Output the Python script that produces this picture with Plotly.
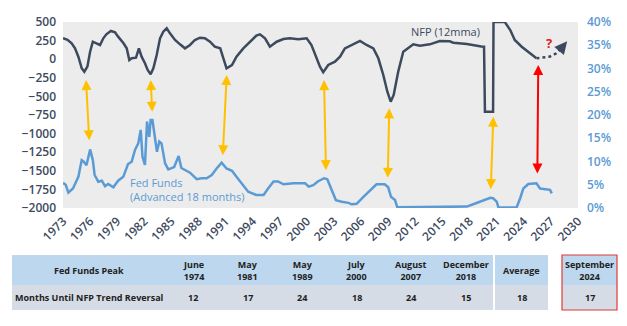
import plotly.graph_objects as go

# ---------------- data ----------------
nfp_year = [1973.0, 1973.5, 1973.96, 1974.33, 1974.7, 1975.07, 1975.36, 1975.7, 1976.0, 1976.3,
            1976.7, 1977.1, 1977.46, 1977.8, 1978.3, 1978.76, 1979.1, 1979.7, 1980.05, 1980.34,
            1980.6, 1981.08, 1981.4, 1981.7, 1982.07, 1982.37, 1982.7, 1983.0, 1983.37, 1983.74,
            1984.1, 1984.48, 1984.84, 1985.4, 1985.95, 1986.5, 1987.06, 1987.6, 1988.16, 1988.7,
            1989.27, 1989.8, 1990.4, 1990.74, 1991.1, 1991.7, 1992.2, 1992.96, 1993.7, 1994.4,
            1994.8, 1995.36, 1995.9, 1996.65, 1997.4, 1998.1, 1999.04, 1999.97, 2000.5, 2001.08,
            2001.44, 2001.8, 2002.36, 2003.1, 2003.66, 2004.2, 2004.95, 2005.87, 2006.6, 2007.35,
            2007.9, 2008.45, 2008.9, 2009.27, 2009.6, 2010.1, 2010.66, 2011.2, 2011.77, 2012.5,
            2013.6, 2014.7, 2015.8, 2016.2, 2017.7, 2019.3, 2019.6, 2019.7, 2020.6, 2020.65,
            2021.9, 2022.5, 2023.0, 2023.77, 2024.5, 2025.4]
nfp_value = [281, 260, 214, 146, 34, -122, -168, -100, 101, 235,
             214, 191, 281, 334, 379, 361, 303, 214, 146, -11,
             12, 20, 146, 34, -55, -145, -203, -122, 56, 281,
             370, 415, 348, 258, 200, 146, 191, 258, 289, 281,
             235, 168, 146, 12, -122, -78, 34, 146, 240, 316,
             334, 281, 168, 235, 271, 281, 267, 281, 191, 12,
             -100, -176, -78, -34, 34, 146, 191, 245, 191, 146,
             12, -212, -437, -571, -481, -168, 101, 146, 200, 182,
             200, 245, 240, 222, 204, 170, 168, -705, -705, 500,
             500, 392, 258, 168, 101, 12]

proj_year = [2025.4, 2026.1, 2026.85, 2027.6, 2028.15]
proj_value = [12, 20, 34, 79, 146]
proj_arrow_head = (2028.8, 240)

ff_year = [1973.0, 1973.3, 1973.6, 1974.1, 1974.7, 1975.07, 1975.3, 1975.6, 1976.0, 1976.3,
           1976.5, 1976.9, 1977.3, 1977.65, 1978.0, 1978.57, 1979.1, 1979.67, 1980.2, 1980.6,
           1980.97, 1981.33, 1981.6, 1981.8, 1982.07, 1982.3, 1982.55, 1982.7, 1982.9, 1983.2,
           1983.4, 1983.66, 1983.9, 1984.3, 1984.65, 1985.3, 1985.8, 1986.1, 1986.6, 1987.06,
           1987.8, 1988.35, 1988.9, 1989.46, 1990.0, 1990.56, 1991.1, 1991.7, 1992.2, 1992.8,
           1993.5, 1994.4, 1995.2, 1995.7, 1996.3, 1996.8, 1997.4, 1998.5, 1999.8, 2000.2,
           2000.7, 2001.2, 2001.9, 2002.25, 2002.7, 2003.2, 2003.85, 2004.6, 2004.95, 2005.5,
           2006.25, 2007.2, 2007.7, 2008.6, 2009.0, 2009.3, 2009.75, 2010.0, 2017.0, 2017.7,
           2018.4, 2019.2, 2019.7, 2020.3, 2020.6, 2021.0, 2021.2, 2023.2, 2023.6, 2023.95,
           2024.5, 2025.4, 2025.8, 2026.5, 2026.9, 2027.1]
ff_pct = [5.4, 5.0, 3.3, 4.2, 6.7, 10.3, 9.96, 9.2, 12.6, 10.3,
          7.1, 5.66, 5.87, 4.7, 5.16, 4.45, 5.87, 6.7, 9.46, 9.96,
          12.5, 13.9, 16.8, 11.0, 9.25, 18.6, 15.3, 18.9, 18.9, 15.3,
          12.1, 14.3, 13.9, 9.6, 8.3, 8.8, 11.2, 8.6, 8.0, 7.6,
          6.2, 6.4, 6.4, 7.1, 8.5, 9.75, 8.5, 8.0, 6.7, 5.3,
          3.5, 2.8, 2.8, 4.2, 5.7, 5.7, 5.1, 5.3, 5.3, 4.6,
          4.9, 5.7, 6.4, 6.2, 3.9, 1.7, 1.35, 1.1, 0.8, 0.9,
          2.4, 4.2, 5.1, 5.1, 4.45, 2.4, 1.7, 0.15, 0.15, 0.3,
          0.8, 1.36, 1.86, 2.2, 2.1, 1.36, 0.1, 0.1, 2.1, 4.2,
          5.16, 5.3, 4.2, 4.1, 3.9, 3.15]

# arrows: (x_top, y_top, x_bottom, y_bottom) in left-axis units
yellow_arrows = [(1975.55, -280, 1975.91, -1109),
                 (1982.71, -280, 1982.88, -727),
                 (1991.12, -212, 1990.68, -1310),
                 (2001.89, -280, 2002.11, -1512),
                 (2009.11, -660, 2008.94, -1614),
                 (2020.63, -773, 2020.34, -1767)]
red_arrow = (2025.6, -78, 2025.5, -1556)

x_ticks = list(range(1973, 2031, 3))

peak_month = ["June", "May", "May", "July", "August", "December"]
peak_year = [1974, 1981, 1989, 2000, 2007, 2018]
months_until = [12, 17, 24, 18, 24, 15]
average_months = 18
current_peak = ("September", 2024)
current_months = 17

# ---------------- styles ----------------
NAVY = "#3d4a5e"
BLUE = "#5b9bd5"
YELLOW = "#FFC000"
RED = "#FF0000"
HDR = "#bdd7ee"
ROW = "#d6dce5"
FONT = "Open Sans"
W, H = 627, 326

fig = go.Figure()
fig.add_trace(go.Scatter(x=ff_year, y=[v / 100 for v in ff_pct], mode="lines",
                         line=dict(color=BLUE, width=2.5), yaxis="y2", hoverinfo="skip"))
fig.add_trace(go.Scatter(x=nfp_year, y=nfp_value, mode="lines",
                         line=dict(color=NAVY, width=2.5), hoverinfo="skip"))
fig.add_trace(go.Scatter(x=proj_year, y=proj_value, mode="lines",
                         line=dict(color=NAVY, width=2.5, dash="dot"), hoverinfo="skip"))

ann = []
for (xt, yt, xb, yb) in yellow_arrows:
    ann.append(dict(x=xt, y=yt, ax=xb, ay=yb, xref="x", yref="y", axref="x", ayref="y",
                    showarrow=True, arrowside="end+start", arrowhead=2, arrowsize=1,
                    arrowwidth=2, arrowcolor=YELLOW, text=""))
xt, yt, xb, yb = red_arrow
ann.append(dict(x=xt, y=yt, ax=xb, ay=yb, xref="x", yref="y", axref="x", ayref="y",
                showarrow=True, arrowside="end+start", arrowhead=2, arrowsize=1,
                arrowwidth=2, arrowcolor=RED, text=""))
ann.append(dict(x=proj_arrow_head[0], y=proj_arrow_head[1], ax=proj_year[-1], ay=proj_value[-1],
                xref="x", yref="y", axref="x", ayref="y", showarrow=True, arrowhead=2,
                arrowsize=1, arrowwidth=2.5, arrowcolor=NAVY, text=""))
ann.append(dict(x=2015.3, y=370, xref="x", yref="y", text="NFP (12mma)", showarrow=False,
                font=dict(family=FONT, size=11, color=NAVY)))
ann.append(dict(x=1980.2, y=-1745, xref="x", yref="y", xanchor="left",
                text="Fed Funds<br>(Advanced 18 months)", showarrow=False, align="left",
                font=dict(family=FONT, size=11, color=BLUE)))
ann.append(dict(x=2026.8, y=214, xref="x", yref="y", text="<b>?</b>", showarrow=False,
                font=dict(family=FONT, size=13, color="#e02020")))

# ---------------- table (shapes + text) ----------------
shapes = []
tfont = dict(family=FONT, size=9, color="#222222")
hdr_top, hdr_bot, row_bot = 255, 285, 310


def px2x(p):
    return p / W


def px2y(p):
    return 1 - p / H


def add_block(x0, x1, border=None):
    shapes.append(dict(type="rect", xref="paper", yref="paper", x0=px2x(x0), x1=px2x(x1),
                       y0=px2y(hdr_bot), y1=px2y(hdr_top), fillcolor=HDR, line=dict(width=0),
                       layer="below"))
    shapes.append(dict(type="rect", xref="paper", yref="paper", x0=px2x(x0), x1=px2x(x1),
                       y0=px2y(row_bot), y1=px2y(hdr_bot), fillcolor=ROW, line=dict(width=0),
                       layer="below"))
    if border:
        shapes.append(dict(type="rect", xref="paper", yref="paper", x0=px2x(x0), x1=px2x(x1),
                           y0=px2y(row_bot), y1=px2y(hdr_top), fillcolor="rgba(0,0,0,0)",
                           line=dict(width=1.2, color=border)))


def add_cell_text(x0, x1, head, value):
    cx = px2x((x0 + x1) / 2)
    ann.append(dict(x=cx, y=px2y((hdr_top + hdr_bot) / 2), xref="paper", yref="paper",
                    xanchor="center", yanchor="middle",
                    text=f"<b>{head}</b>", showarrow=False, font=tfont, align="center"))
    ann.append(dict(x=cx, y=px2y((hdr_bot + row_bot) / 2), xref="paper", yref="paper",
                    xanchor="center", yanchor="middle",
                    text=f"<b>{value}</b>", showarrow=False, font=tfont, align="center"))


first_w, col_w, tx0 = 154, 54.5, 12
main_end = tx0 + first_w + col_w * len(peak_month)
add_block(tx0, main_end)
add_cell_text(tx0, tx0 + first_w, "Fed Funds Peak", "Months Until NFP Trend Reversal")
for i, (m, y, v) in enumerate(zip(peak_month, peak_year, months_until)):
    x0 = tx0 + first_w + i * col_w
    add_cell_text(x0, x0 + col_w, f"{m}<br>{y}", v)
add_block(495, 548)
add_cell_text(495, 548, "Average", average_months)
add_block(562, 617, border="#e03a3a")
add_cell_text(562, 617, f"{current_peak[0]}<br>{current_peak[1]}", current_months)

fig.update_layout(
    width=W, height=H, margin=dict(l=0, r=0, t=0, b=0, pad=0, autoexpand=False),
    paper_bgcolor="white", plot_bgcolor="#ececec", showlegend=False,
    annotations=ann, shapes=shapes,
    xaxis=dict(domain=[63 / W, 578 / W], range=[1973, 2030], tickvals=x_ticks,
               tickangle=-45, showgrid=False, zeroline=False, ticks="", automargin=False,
               ticklabelstandoff=3,
               tickfont=dict(family=FONT, size=12, color=NAVY, weight=600), anchor="y"),
    yaxis=dict(domain=[1 - 208 / H, 1 - 22 / H], range=[-2000, 500], dtick=250,
               showgrid=False, zeroline=False, ticks="", ticklabelstandoff=6, automargin=False,
               tickfont=dict(family=FONT, size=12, color=NAVY, weight=600)),
    yaxis2=dict(overlaying="y", side="right", range=[0, 0.40], dtick=0.05, tickformat=".0%",
                showgrid=False, zeroline=False, ticks="", ticklabelstandoff=8, automargin=False,
                tickfont=dict(family=FONT, size=12, color=BLUE, weight=600)),
)

fig.write_html("out.html")
